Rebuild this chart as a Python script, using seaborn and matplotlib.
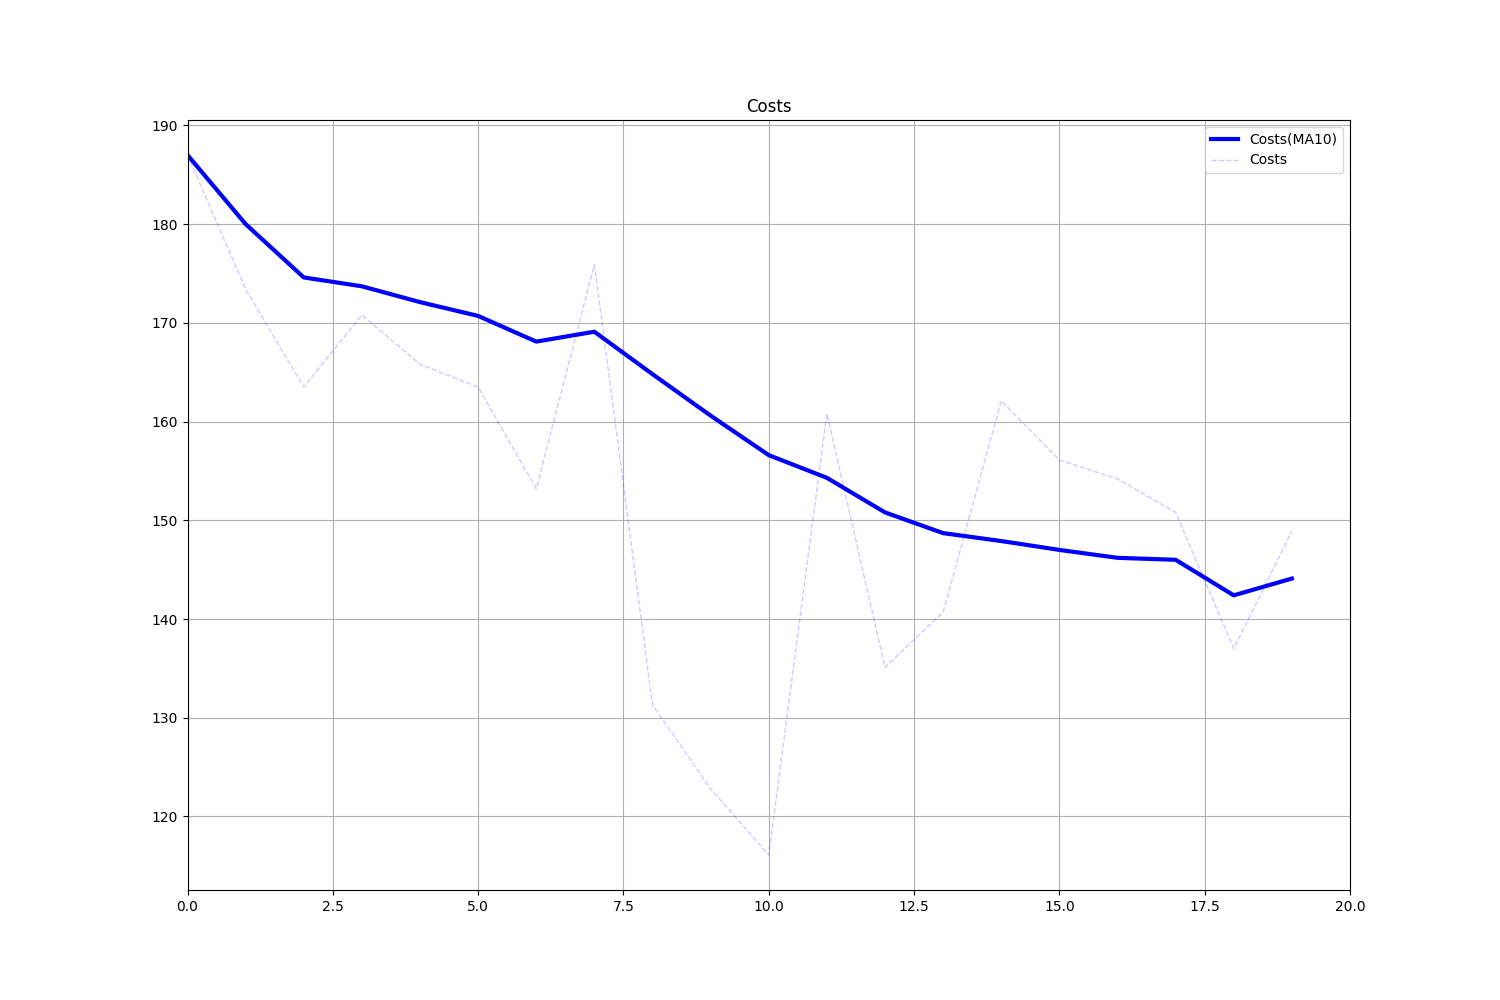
"""
Costs chart with moving average line.
"""

import matplotlib
matplotlib.use("Agg")
import matplotlib.pyplot as plt
import seaborn as sns
import numpy as np

# Data
steps = list(range(20))
costs = [187.0, 173.4, 163.5, 170.8, 165.8, 163.5, 153.2, 175.9, 131.3, 122.8,
         116.1, 160.8, 135.1, 140.7, 162.1, 156.1, 154.2, 150.8, 137.0, 148.9]
costs_ma10 = [187.0, 180.0, 174.6, 173.7, 172.1, 170.7, 168.1, 169.1, 164.8, 160.6,
              156.6, 154.3, 150.8, 148.7, 147.9, 147.0, 146.2, 146.0, 142.4, 144.1]


def create_costs_chart():
    """Plot costs and their moving average."""
    fig, ax = plt.subplots(figsize=(15, 10), dpi=100)

    sns.lineplot(x=steps, y=costs_ma10, ax=ax, color='blue', linewidth=3,
                 label='Costs(MA10)')
    sns.lineplot(x=steps, y=costs, ax=ax, color='blue', linewidth=1,
                 linestyle='--', alpha=0.2, label='Costs')

    ax.set_title('Costs')
    ax.set_xlim(0, 20)
    ax.grid(True)
    ax.legend(loc='upper right')

    plt.savefig('out.png', dpi=100)
    print("Created out.png")


if __name__ == "__main__":
    create_costs_chart()
